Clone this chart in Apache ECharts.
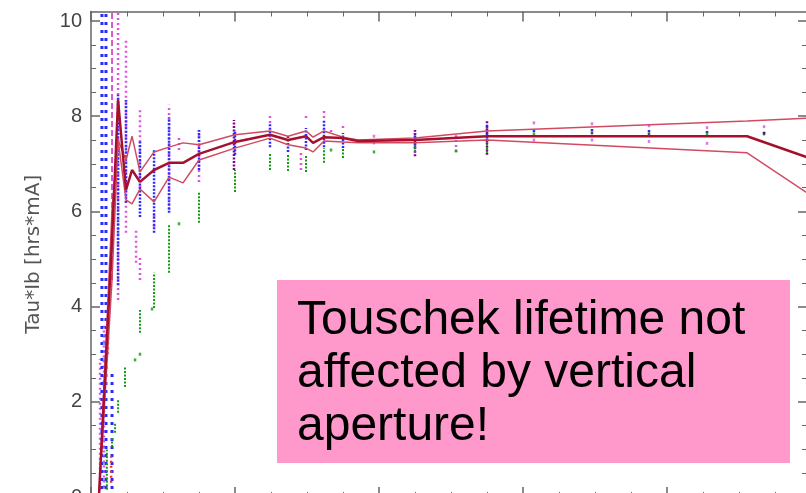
<!DOCTYPE html>
<html>
<head>
<meta charset="utf-8">
<script src="https://cdn.jsdelivr.net/npm/echarts@6/dist/echarts.min.js"></script>
<style>
  html, body { margin: 0; padding: 0; background: #fff; }
  #chart { width: 806px; height: 493px; }
</style>
</head>
<body>
<div id="chart"></div>
<script>
// Positions along the scan where the three lifetime curves have vertices
const curveX    = [0.055, 0.146, 0.188, 0.243, 0.285, 0.340, 0.438, 0.542, 0.639, 0.750, 1.000, 1.243, 1.368, 1.493, 1.542, 1.618, 1.750, 1.854, 2.250, 2.750, 4.556, 4.972];
const curveMid  = [0, 5.40, 8.34, 6.45, 6.87, 6.62, 6.87, 7.02, 7.02, 7.21, 7.46, 7.61, 7.50, 7.58, 7.44, 7.56, 7.54, 7.48, 7.50, 7.58, 7.58, 7.14];
const curveHigh = [0, 6.03, 7.50, 7.08, 7.58, 6.83, 7.25, 7.35, 7.44, 7.40, 7.61, 7.69, 7.58, 7.69, 7.56, 7.69, 7.56, 7.50, 7.54, 7.69, 7.90, 7.96];
const curveLow  = [0, 4.56, 7.50, 6.24, 6.16, 6.47, 6.20, 6.72, 6.60, 7.08, 7.33, 7.54, 7.40, 7.33, 7.25, 7.48, 7.46, 7.44, 7.44, 7.50, 7.23, 6.39];

// Vertical runs of measured points: [x, yFrom, yTo]
const blueSparseRuns = [[0.076, 0, 10.2], [0.104, 0, 10.2], [0.146, 0, 2.67]];
const blueRuns = [
  [0.188, 4.45, 8.45], [0.243, 6.18, 8.34], [0.340, 5.88, 7.50], [0.438, 5.55, 7.29],
  [0.542, 5.97, 7.98], [0.750, 6.87, 7.71], [1.000, 7.19, 7.71], [1.243, 7.35, 7.86],
  [1.368, 7.25, 7.60], [1.493, 7.29, 7.75], [1.618, 7.35, 7.92], [1.750, 7.33, 7.65],
  [2.250, 7.33, 7.65], [2.750, 7.46, 7.82], [3.076, 7.67, 7.71], [3.479, 7.69, 7.75],
  [3.875, 7.67, 7.73], [4.278, 7.65, 7.71], [4.674, 7.63, 7.69]
];
const magentaDashRuns = [[0.146, 4.56, 10.2]];
const magentaRuns = [
  [0.188, 4.14, 10.2], [0.243, 5.55, 9.64], [0.340, 6.51, 8.17], [0.340, 4.56, 5.04],
  [0.313, 4.92, 5.61], [0.438, 5.67, 5.97], [0.542, 6.03, 8.24], [0.611, 7.29, 7.54],
  [0.750, 6.62, 7.77], [1.243, 7.86, 8.07], [1.458, 6.87, 7.25], [1.493, 7.96, 8.07],
  [1.618, 7.96, 8.13], [1.667, 7.67, 7.75], [1.750, 7.75, 7.86], [2.535, 7.25, 7.60],
  [0.063, 0.15, 2.90], [0.090, 0.20, 3.60], [0.118, 3.00, 3.40]
];
const purpleRuns = [[0.993, 6.87, 7.92], [2.250, 7.16, 7.71], [2.750, 7.19, 7.92]];
const greenRuns = [
  [0.146, 1.05, 1.26], [0.167, 1.35, 1.56], [0.188, 1.77, 2.04], [0.236, 2.31, 2.73],
  [0.340, 3.45, 3.93], [0.438, 3.97, 4.71], [0.542, 4.71, 5.71], [0.750, 5.76, 6.39],
  [1.000, 6.41, 6.87], [1.243, 6.87, 7.23], [1.368, 6.85, 7.19], [1.493, 6.83, 7.19],
  [1.618, 7.02, 7.33], [1.750, 7.12, 7.33], [2.250, 7.25, 7.40], [2.750, 7.23, 7.46],
  [0.110, 0.15, 1.00]
];
const redRuns = [[0.140, 0.30, 0.85]];

// Isolated points
const magentaDots = [[3.076, 7.86], [3.076, 7.50], [3.479, 7.84], [3.479, 7.50], [3.875, 7.80], [3.875, 7.47],
                     [4.278, 7.76], [4.278, 7.43], [4.674, 7.78], [1.965, 7.44], [1.965, 7.58]];
const greenDots = [[0.306, 2.88], [0.340, 3.00], [0.424, 3.95], [0.611, 5.74], [1.667, 7.29], [1.965, 7.25],
                   [2.535, 7.27], [3.076, 7.63], [4.278, 7.63]];
const blackDots = [[3.479, 7.65], [3.875, 7.63], [4.674, 7.63]];

// Axis ticks
const yTickLabels = [0, 2, 4, 6, 8, 10];
const yMinorTicks = [0.5, 1, 1.5, 2.5, 3, 3.5, 4.5, 5, 5.5, 6.5, 7, 7.5, 8.5, 9, 9.5];

const AXIS_COLOR = '#666';
const FONT = '"Liberation Sans", Arial, sans-serif';

function pairs(xs, ys) { return xs.map((x, i) => [x, ys[i]]); }

function runSeries(runs, color, width, dash, z) {
  return {
    type: 'custom',
    coordinateSystem: 'cartesian2d',
    data: runs,
    encode: { x: 0, y: [1, 2] },
    clip: true,
    silent: true,
    z: z,
    renderItem: function (params, api) {
      const a = api.coord([api.value(0), api.value(1)]);
      const b = api.coord([api.value(0), api.value(2)]);
      return {
        type: 'line',
        shape: { x1: a[0], y1: a[1], x2: b[0], y2: b[1] },
        style: { stroke: color, lineWidth: width, lineDash: dash }
      };
    }
  };
}

function dotSeries(points, color, z) {
  return {
    type: 'scatter', data: points, symbol: 'rect', symbolSize: [2.5, 3],
    itemStyle: { color: color }, silent: true, z: z
  };
}

function curveSeries(ys, color, width, z) {
  return {
    type: 'line', data: pairs(curveX, ys), symbol: 'none', silent: true, z: z,
    lineStyle: { color: color, width: width }
  };
}

function xAxisDef(pos) {
  return {
    type: 'value', position: pos, min: 0, max: 5, interval: 1,
    axisLine: { show: true, onZero: false, lineStyle: { color: AXIS_COLOR, width: 1.5 } },
    axisTick: { show: true, inside: true, length: 10, lineStyle: { color: AXIS_COLOR, width: 1.5 } },
    minorTick: { show: true, splitNumber: 4, length: 5, lineStyle: { color: AXIS_COLOR, width: 1 } },
    axisLabel: { show: false }, splitLine: { show: false }
  };
}

function yAxisDef(pos, minor, withLabels) {
  const ax = {
    type: 'value', position: pos, min: 0, max: 10.2,
    offset: pos === 'right' ? -4 : 0,
    axisLine: { show: !minor, onZero: false, lineStyle: { color: AXIS_COLOR, width: 1.5 } },
    axisTick: {
      show: true, inside: true, length: minor ? 5 : 9,
      customValues: minor ? yMinorTicks : yTickLabels,
      lineStyle: { color: AXIS_COLOR, width: minor ? 1 : 1.5 }
    },
    axisLabel: { show: false }, splitLine: { show: false }
  };
  if (withLabels) {
    ax.axisLabel = {
      show: true, customValues: yTickLabels, margin: 9,
      formatter: v => String(v), color: '#444', fontSize: 20, fontFamily: FONT
    };
    ax.name = 'Tau*Ib [hrs*mA]';
    ax.nameLocation = 'middle';
    ax.nameGap = 47;
    ax.nameTextStyle = { color: '#555', fontSize: 20, fontFamily: '"DejaVu Sans", sans-serif' };
  }
  return ax;
}

const chart = echarts.init(document.getElementById('chart'), null, { renderer: 'canvas' });
chart.setOption({
  animation: false,
  backgroundColor: '#fff',
  grid: { left: 91, right: -5, top: 11.5, bottom: -4, containLabel: false, outerBoundsMode: 'none' },
  xAxis: [xAxisDef('bottom'), xAxisDef('top')],
  yAxis: [yAxisDef('left', false, true), yAxisDef('left', true, false),
          yAxisDef('right', false, false), yAxisDef('right', true, false)],
  series: [
    runSeries(purpleRuns, '#880088', 2.5, [2, 1.5], 2),
    runSeries(magentaRuns, '#dd55dd', 2.5, [2, 3], 3),
    runSeries(magentaDashRuns, '#cc22cc', 1.5, [6, 3], 3),
    runSeries(blueSparseRuns, '#2a2aff', 3, [3, 5], 4),
    runSeries(blueRuns, '#2a2aff', 2.5, [2, 1.5], 4),
    runSeries(greenRuns, '#129a12', 2, [2, 1.5], 4),
    runSeries(redRuns, '#ff3300', 2.5, [2, 3], 4),
    dotSeries(magentaDots, '#dd55dd', 5),
    dotSeries(greenDots, '#129a12', 5),
    dotSeries(blackDots, '#222222', 5),
    curveSeries(curveHigh, '#d24a62', 1.5, 6),
    curveSeries(curveLow, '#d24a62', 1.5, 6),
    curveSeries(curveMid, '#a5102c', 2.5, 7)
  ],
  graphic: [
    { type: 'rect', shape: { x: 277, y: 280, width: 513, height: 183 }, style: { fill: '#ff99cc' }, z: 100 },
    { type: 'text', x: 297, y: 294, z: 101,
      style: { text: 'Touschek lifetime not\naffected by vertical\naperture!', fill: '#000',
               font: '48px "Liberation Sans", Arial, sans-serif', lineHeight: 53, verticalAlign: 'top' } }
  ]
});
</script>
</body>
</html>
